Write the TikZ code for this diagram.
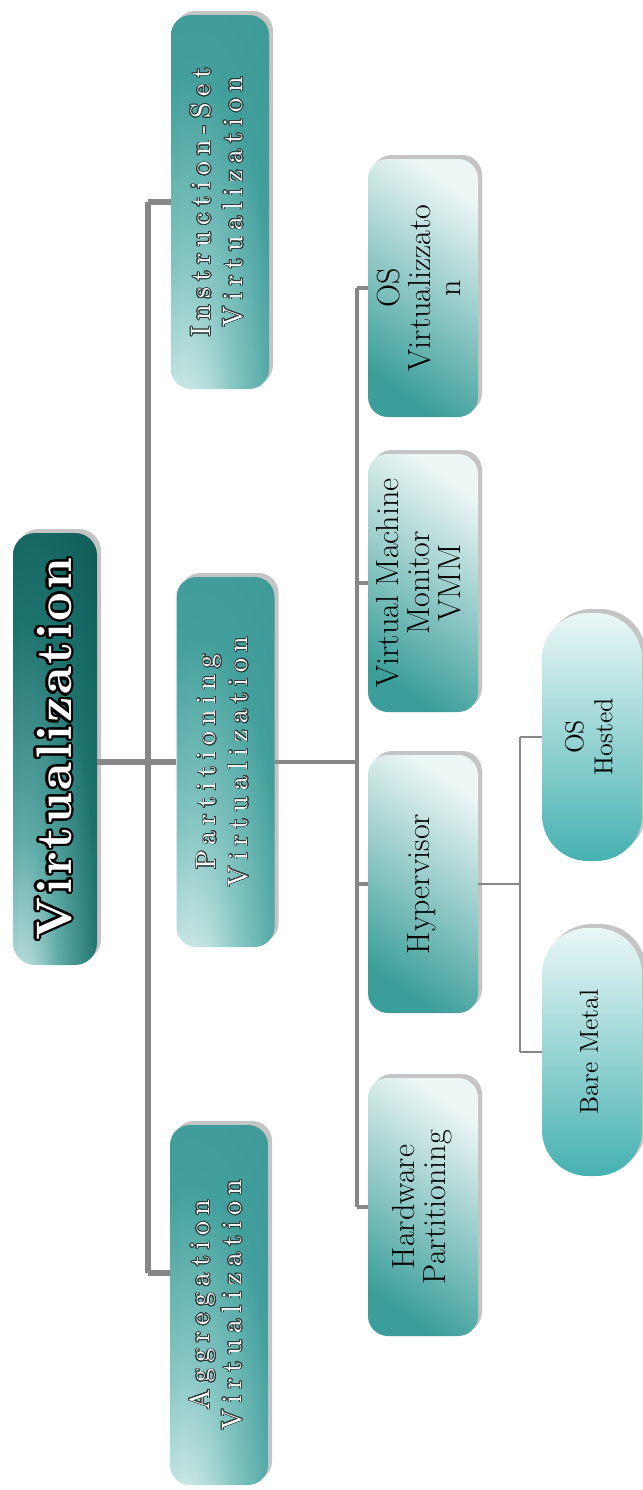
\documentclass[tikz,border=0pt]{standalone}
\usepackage{fontspec}
\usepackage{graphicx}
\usepackage[copies]{contour}
\usetikzlibrary{shadows,calc}

% fonts: tracked Latin Modern for the upper levels
\newfontfamily\spacedfont{lmroman10-regular.otf}[LetterSpace=22,BoldFont=lmroman10-bold.otf]
\newfontfamily\rootfont{lmroman10-bold.otf}[LetterSpace=5]
\contournumber{24}

% palette
\definecolor{linegray}{HTML}{878787}
\definecolor{shadowgray}{HTML}{C4C4C4}
\definecolor{rootB}{HTML}{D4ECEA}
\definecolor{rootC}{HTML}{5FABA8}
\definecolor{rootD}{HTML}{1E726E}
\definecolor{rootE}{HTML}{0C5955}
\definecolor{oneB}{HTML}{D9EFED}
\definecolor{oneC}{HTML}{86C6C3}
\definecolor{oneD}{HTML}{429F9B}
\definecolor{oneE}{HTML}{3A9793}
\definecolor{twoLight}{HTML}{EBF6F5}
\definecolor{twoDark}{HTML}{3B9E9A}
\definecolor{threeLight}{HTML}{EAF7F7}
\definecolor{threeDark}{HTML}{46B1B1}
\definecolor{engrave}{HTML}{2E3B3A}

\pgfdeclareradialshading{rootshade}{\pgfpoint{-22bp}{-38bp}}{%
  color(0bp)=(white); color(6bp)=(rootB); color(22bp)=(rootC);
  color(42bp)=(rootD); color(62bp)=(rootE); color(150bp)=(rootE)}
\pgfdeclareradialshading{oneshade}{\pgfpoint{-20bp}{-40bp}}{%
  color(0bp)=(white); color(8bp)=(oneB); color(25bp)=(oneC);
  color(45bp)=(oneD); color(70bp)=(oneE); color(150bp)=(oneE)}

% label helpers
\newcommand{\rootlabel}[1]{\rotatebox{90}{\rootfont\fontsize{25pt}{25pt}\selectfont
  \contourlength{1.1pt}\color{white}\contour{black}{#1}}}
\newcommand{\onelabel}[2]{\rotatebox{90}{\spacedfont\fontsize{14pt}{16pt}\selectfont
  \contourlength{0.35pt}\color{white}%
  \begin{tabular}{@{}c@{}}\contour{engrave}{#1}\\\contour{engrave}{#2}\end{tabular}}}
\newcommand{\twolabel}[1]{\rotatebox{90}{\fontsize{16pt}{15pt}\selectfont
  \begin{tabular}{@{}c@{}}#1\end{tabular}}}
\newcommand{\threelabel}[1]{\rotatebox{90}{\fontsize{13pt}{14.5pt}\selectfont
  \begin{tabular}{@{}c@{}}#1\end{tabular}}}

\tikzset{
  box/.style={rounded corners=10pt, inner sep=0pt, align=center,
    drop shadow={shadow xshift=2pt, shadow yshift=2pt, fill=shadowgray, opacity=1}},
  lvlzero/.style={box, rounded corners=11pt, shading=rootshade,
    minimum width=42pt, minimum height=216pt},
  lvlone/.style={box, shading=oneshade, minimum width=49pt},
  lvltwo/.style={box, top color=twoLight, bottom color=twoDark, shading angle=-35,
    minimum width=55pt, minimum height=129pt},
  lvlthree/.style={box, rounded corners=23pt, top color=threeLight, bottom color=threeDark,
    minimum width=50pt, minimum height=124pt},
  trunk/.style={draw=linegray, line width=3.2pt},
  branch/.style={draw=linegray, line width=1.6pt},
  twig/.style={draw=linegray, line width=1.1pt}
}

\begin{document}
\begin{tikzpicture}[x=0.5pt, y=-0.5pt]
  \fill[white] (0,0) rectangle (643,1490);
  \useasboundingbox (0,0) rectangle (643,1490);

  % root
  \node[lvlzero] (root) at (55,749) {\rootlabel{Virtualization}};

  % first level
  \node[lvlone, minimum height=187pt] (instr) at (220,202) {\onelabel{Instruction-Set}{Virtualization}};
  \node[lvlone, minimum height=185pt] (part)  at (225.5,762) {\onelabel{Partitioning}{Virtualization}};
  \node[lvlone, minimum height=180pt] (aggr)  at (219,1305) {\onelabel{Aggregation}{Virtualization}};

  % second level
  \node[lvltwo] (osv) at (423,288)  {\twolabel{OS\\Virtualizzato\\n}};
  \node[lvltwo] (vmm) at (423,583)  {\twolabel{Virtual Machine\\Monitor\\VMM}};
  \node[lvltwo] (hyp) at (423,884)  {\twolabel{Hypervisor}};
  \node[lvltwo] (hw)  at (423,1207) {\twolabel{Hardware\\Partitioning}};

  % third level
  \node[lvlthree] (hosted) at (592,737)  {\threelabel{OS\\Hosted}};
  \node[lvlthree] (bare)   at (592,1052) {\threelabel{Bare Metal}};

  % connector rails
  \coordinate (railA) at (148,0);
  \coordinate (railB) at (357,0);
  \coordinate (railC) at (520,0);
  \coordinate (aggrin) at ($(aggr.west)+(0,-32)$);

  % root to first level
  \draw[trunk] (root.east |- part.west) -- (part.west);
  \draw[trunk] (railA |- instr.west) -- (railA |- aggrin);
  \draw[trunk] (railA |- instr.west) -- (instr.west);
  \draw[trunk] (railA |- aggrin) -- (aggrin);

  % partitioning to second level
  \draw[branch] (part.east) -- (railB |- part.east);
  \draw[branch] (railB |- osv.west) -- (railB |- hw.west);
  \foreach \n in {osv,vmm,hyp,hw}
    \draw[branch] (railB |- \n.west) -- (\n.west);

  % hypervisor to third level
  \draw[twig] (hyp.east) -- (railC |- hyp.east);
  \draw[twig] (railC |- hosted.west) -- (railC |- bare.west);
  \draw[twig] (railC |- hosted.west) -- (hosted.west);
  \draw[twig] (railC |- bare.west) -- (bare.west);
\end{tikzpicture}
\end{document}
